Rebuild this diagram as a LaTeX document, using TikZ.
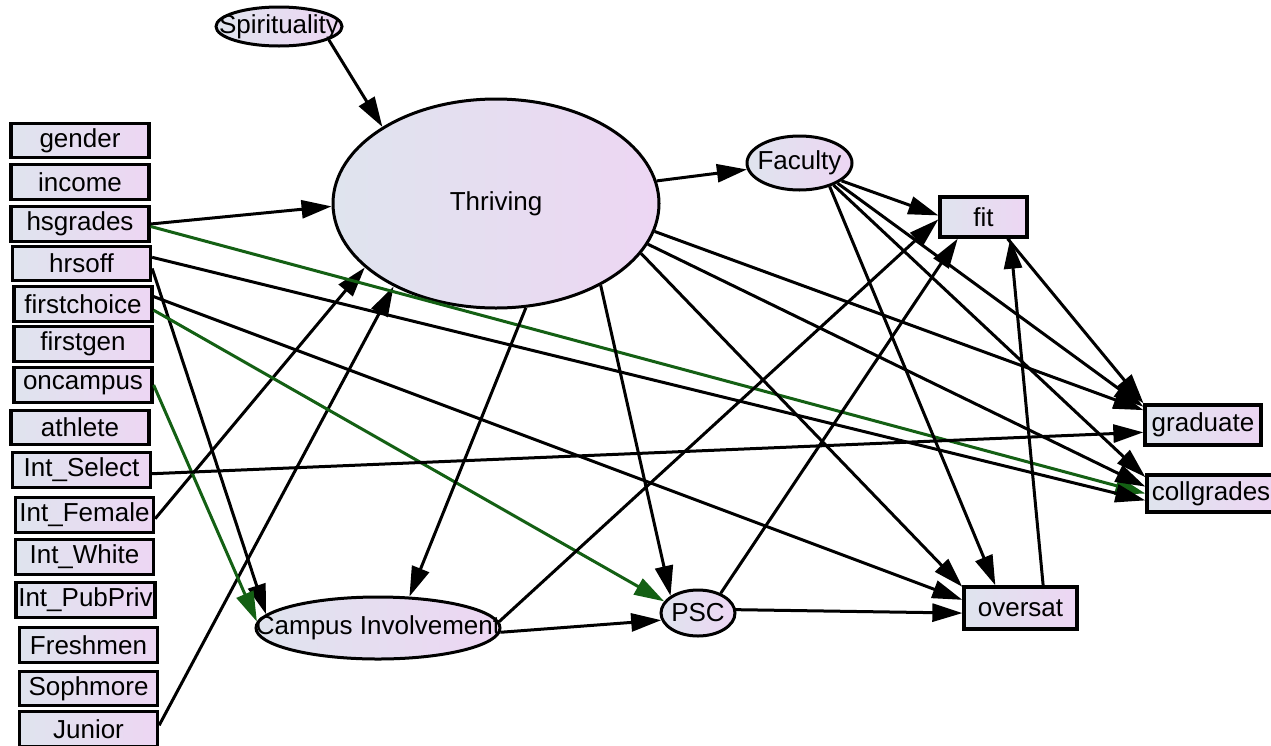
\documentclass[tikz,border=0pt]{standalone}
\usepackage{fontspec}
\setmainfont{Liberation Sans}
\usetikzlibrary{arrows.meta, shapes.geometric}

\definecolor{shadeL}{RGB}{223,228,238}
\definecolor{shadeR}{RGB}{237,214,243}
\definecolor{pathgreen}{RGB}{20,96,20}

\begin{document}
\begin{tikzpicture}[
    x=1pt, y=-1pt,
    font=\fontsize{26}{30}\selectfont,
    obs/.style={draw, line width=3.3pt, rectangle, minimum width=138pt, minimum height=34.5pt, inner sep=0pt, left color=shadeL, right color=shadeR},
    latent/.style={draw, line width=3pt, ellipse, inner sep=0pt, left color=shadeL, right color=shadeR},
    arrow/.style={-{Triangle[length=30pt, width=18pt]}, line width=3pt},
    garrow/.style={arrow, draw=pathgreen}
]
    \fill[white] (0,0) rectangle (1271,745);
    \useasboundingbox (0,0) rectangle (1271,745);

    % observed variables on the left
    \node[obs] (gender) at (80,140.5) {gender};
    \node[obs] (income) at (80,182) {income};
    \node[obs] (hsgrades) at (80,224) {hsgrades};
    \node[obs] (hrsoff) at (81.5,263.5) {hrsoff};
    \node[obs] (firstchoice) at (83,304) {firstchoice};
    \node[obs] (firstgen) at (83,344) {firstgen};
    \node[obs] (oncampus) at (83,385) {oncampus};
    \node[obs] (athlete) at (80,427.5) {athlete};
    \node[obs] (intselect) at (81.5,470) {Int\_Select};
    \node[obs] (intfemale) at (84.5,515) {Int\_Female};
    \node[obs] (intwhite) at (84.5,557) {Int\_White};
    \node[obs, minimum width=139pt] (intpubpriv) at (85.5,600) {Int\_PubPriv};
    \node[obs] (freshmen) at (88.5,645) {Freshmen};
    \node[obs] (sophmore) at (88.5,688.5) {Sophmore};
    \node[obs] (junior) at (88.5,729) {Junior};

    % latent variables
    \node[latent, minimum width=126pt, minimum height=39pt] (spirit) at (279,26.5) {\makebox[0pt]{Spirituality}};
    \node[latent, minimum width=326pt, minimum height=209pt] (thriving) at (496,203.5) {\makebox[0pt]{Thriving}};
    \node[latent, minimum width=105pt, minimum height=54pt] (faculty) at (799.5,163) {\makebox[0pt]{Faculty}};
    \node[latent, minimum width=244pt, minimum height=62pt] (campus) at (378,628) {\makebox[0pt]{Campus Involvement}};
    \node[latent, minimum width=74pt, minimum height=46pt] (psc) at (698,613) {\makebox[0pt]{PSC}};

    % outcomes
    \node[obs, minimum width=87pt, minimum height=40pt] (fit) at (983.5,217) {fit};
    \node[obs, minimum width=116pt, minimum height=40pt] (graduate) at (1203,425) {graduate};
    \node[obs, minimum width=128pt, minimum height=37pt] (collgrades) at (1211,493.5) {collgrades};
    \node[obs, minimum width=113pt, minimum height=42pt] (oversat) at (1020.5,608) {oversat};

    % paths into Thriving
    \draw[arrow] (spirit.-15) -- (thriving.146);
    \draw[arrow] (hsgrades.east) -- (thriving.181.5);
    \draw[arrow] (intfemale.-3) -- (thriving.206);
    \draw[arrow] (junior.3) -- (thriving.219);

    % direct paths from the background variables
    \draw[garrow] (hsgrades.-2) -- (collgrades.west);
    \draw[arrow] (hrsoff.5) -- (collgrades.186);
    \draw[arrow] (hrsoff.-4) -- (campus.173);
    \draw[garrow] (oncampus.east) -- (campus.177);
    \draw[arrow] (firstchoice.6) -- (oversat.172);
    \draw[garrow] (firstchoice.-5) -- (psc.161);
    \draw[arrow] (intselect.-3) -- (graduate.187);

    % paths from Thriving
    \draw[arrow] (thriving.8) -- (faculty.187);
    \draw[arrow] (thriving.-74) -- (campus.45);
    \draw[arrow] (thriving.-38) -- (psc.148);
    \draw[arrow] (thriving.-19) -- (oversat.160);
    \draw[arrow] (thriving.-10) -- (graduate.166);
    \draw[arrow] (thriving.-15) -- (collgrades.174);

    % paths from Faculty
    \draw[arrow] (faculty.-23) -- (fit.178);
    \draw[arrow] (faculty.-28) -- (graduate.163);
    \draw[arrow] (faculty.-33) -- (collgrades.166);
    \draw[arrow] (faculty.-38) -- (oversat.138);

    % remaining paths
    \draw[arrow] (campus.3) -- (fit.183);
    \draw[arrow] (campus.-2) -- (psc.191);
    \draw[arrow] (psc.41) -- (fit.220);
    \draw[arrow] (psc.5) -- (oversat.185);
    \draw[arrow] (oversat.45) -- (fit.-39);
    \draw[arrow] (fit.-42) -- (graduate.160);
\end{tikzpicture}
\end{document}
